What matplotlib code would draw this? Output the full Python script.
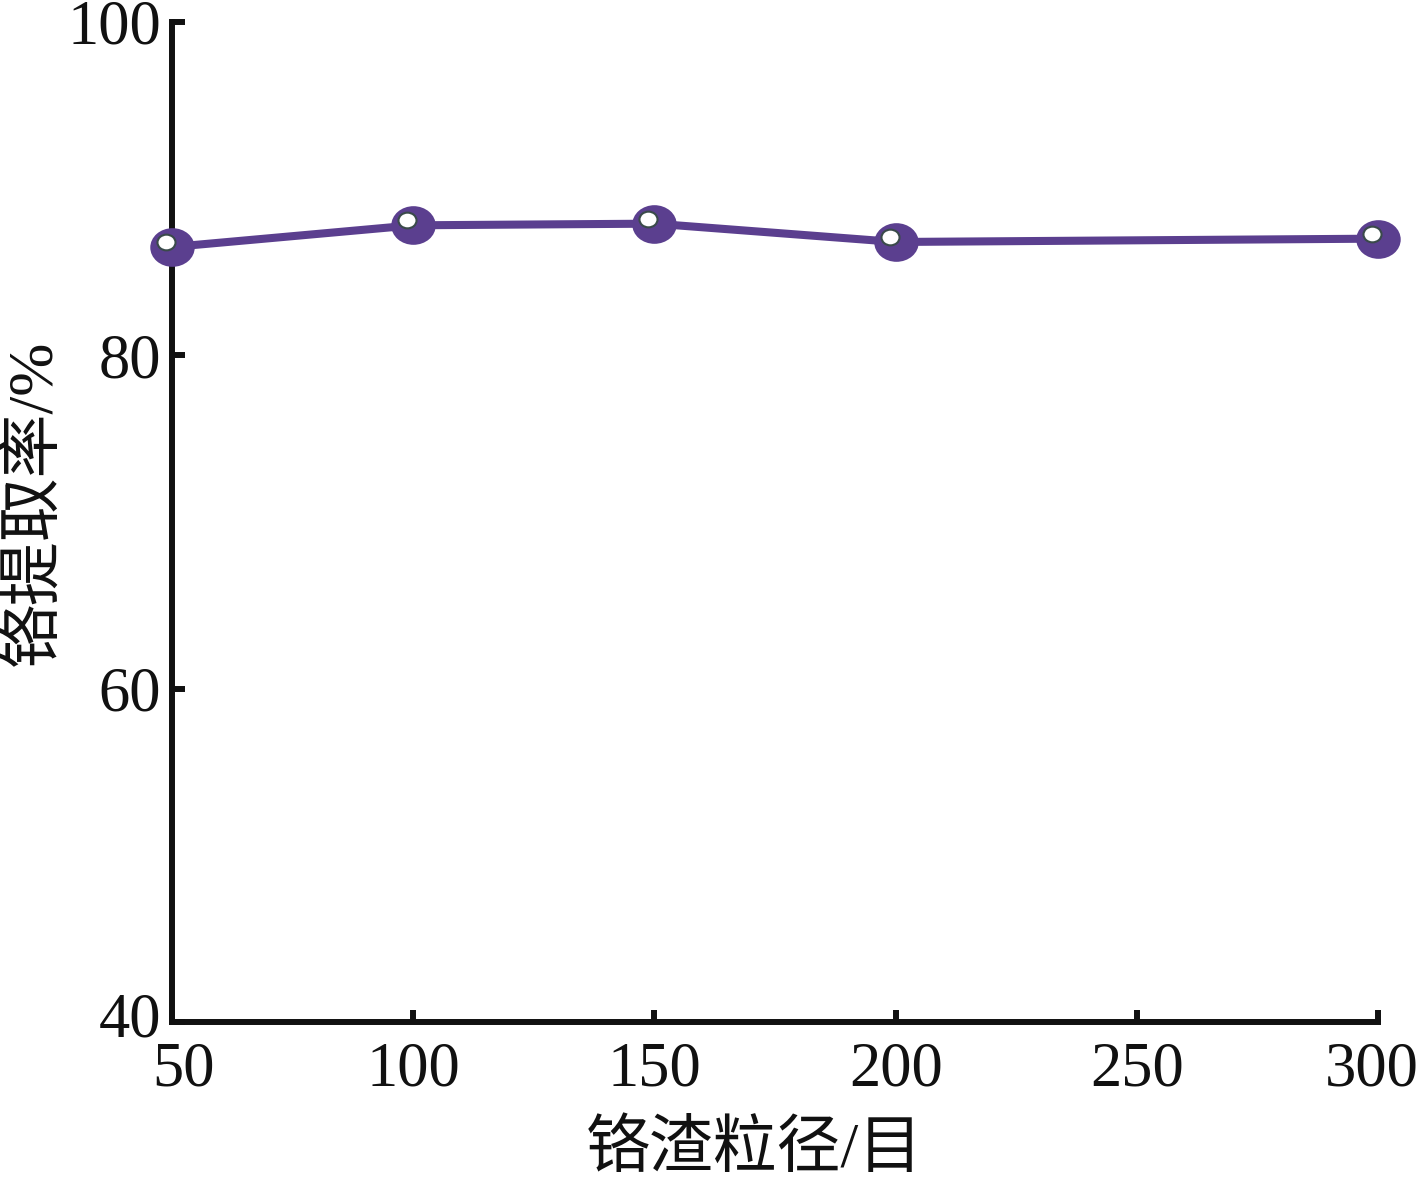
import numpy as np
import matplotlib.pyplot as plt
from matplotlib.path import Path
from matplotlib.transforms import ScaledTranslation

# 铬渣粒径 vs 铬提取率
size_mesh = [50, 100, 150, 200, 300]
extract_rate = [86.5, 87.8, 87.9, 86.8, 87.0]

x_ticks = [50, 100, 150, 200, 250, 300]
y_ticks = [40, 60, 80, 100]

purple = '#5b3f8f'
fonts = ['Liberation Serif', 'Noto Sans CJK SC']

# slightly flattened ball marker
circ = Path.unit_circle()
ball = Path(circ.vertices * np.array([1.15, 1.0]), circ.codes)

fig = plt.figure(figsize=(14.17, 11.81), dpi=100)
ax = fig.add_axes([0.1214, 0.1346, 0.8511, 0.8468])

ax.plot(size_mesh, extract_rate, '-', color=purple, linewidth=5.8, clip_on=False, zorder=3)
ax.plot(size_mesh, extract_rate, linestyle='none', marker=ball, color=purple, markersize=32,
        markeredgewidth=0, clip_on=False, zorder=4)
# little white highlight on each ball
shift = ax.transData + ScaledTranslation(-6 / 100, 5 / 100, fig.dpi_scale_trans)
ax.plot(size_mesh, extract_rate, linestyle='none', marker=ball, color='white', markersize=13,
        markeredgecolor='#3a4a4a', markeredgewidth=1.5, transform=shift, clip_on=False, zorder=5)

ax.set_xlim(50, 300)
ax.set_ylim(40, 100)
ax.set_xticks(x_ticks)
ax.set_yticks(y_ticks)

for s in ['top', 'right']:
    ax.spines[s].set_visible(False)
for s in ['left', 'bottom']:
    ax.spines[s].set_linewidth(4.3)
    ax.spines[s].set_color('#111111')

ax.tick_params(direction='in', length=9, width=4.3, color='#111111', labelsize=45, pad=8)
ax.tick_params(axis='x', pad=14)
for lab in ax.get_xticklabels() + ax.get_yticklabels():
    lab.set_family(fonts)
    lab.set_color('#111111')

# edge labels sit a little inward, as in the original
xl = ax.get_xticklabels()
xl[0].set_transform(xl[0].get_transform() + ScaledTranslation(11 / 100, 0, fig.dpi_scale_trans))
xl[-1].set_transform(xl[-1].get_transform() + ScaledTranslation(-6 / 100, 0, fig.dpi_scale_trans))
yl = ax.get_yticklabels()
yl[0].set_transform(yl[0].get_transform() + ScaledTranslation(0, 8 / 100, fig.dpi_scale_trans))

ax.set_xlabel('铬渣粒径/目', family=fonts, fontsize=46, color='#111111')
ax.set_ylabel('铬提取率/%', family=fonts, fontsize=46, color='#111111')
ax.xaxis.set_label_coords(0.483, -0.099)
ax.yaxis.set_label_coords(-0.088, 0.519)

fig.savefig('out.png', dpi=100)
